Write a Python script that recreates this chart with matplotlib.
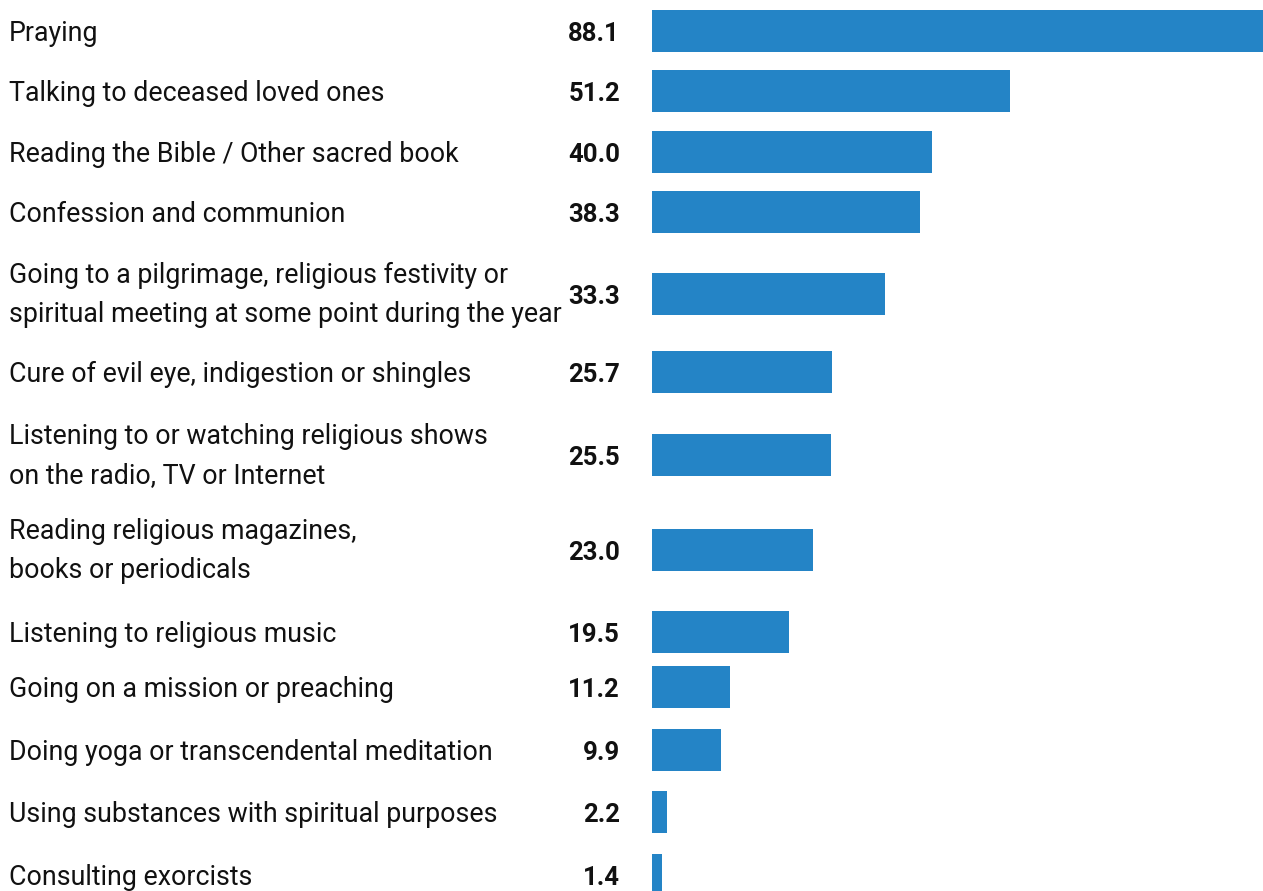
import matplotlib
matplotlib.use("Agg")
import matplotlib.pyplot as plt
from matplotlib import font_manager as fm
from matplotlib.transforms import blended_transform_factory

# Share of respondents practising each activity (%)
activities = [
    "Praying",
    "Talking to deceased loved ones",
    "Reading the Bible / Other sacred book",
    "Confession and communion",
    "Going to a pilgrimage, religious festivity or\nspiritual meeting at some point during the year",
    "Cure of evil eye, indigestion or shingles",
    "Listening to or watching religious shows\non the radio, TV or Internet",
    "Reading religious magazines,\nbooks or periodicals",
    "Listening to religious music",
    "Going on a mission or preaching",
    "Doing yoga or transcendental meditation",
    "Using substances with spiritual purposes",
    "Consulting exorcists",
]
shares = [88.1, 51.2, 40.0, 38.3, 33.3, 25.7, 25.5, 23.0, 19.5, 11.2, 9.9, 2.2, 1.4]

# ---- layout (pixel units, figure is 1263 x 891 at 100 dpi) ----
W, H = 1263, 891
row_centers = [31, 91, 152, 212, 294, 372, 455, 550, 632, 687, 750, 812, 875]
bar_height = 41.7
bar_left = 652
px_per_unit = 7.0
label_x = 9
value_right = 620
line_gap = 39.5
cap_half = 9.7

BAR_COLOR = "#2484C6"
TEXT_COLOR = "#111111"

installed = {f.name for f in fm.fontManager.ttflist}
label_font = dict(family=["Roboto", "DejaVu Sans"], size=19.3)
if "Liberation Sans Narrow" in installed:
    value_font = dict(family=["Liberation Sans Narrow"], weight="bold", size=20.1)
else:
    value_font = dict(family=["Roboto", "DejaVu Sans"], weight="bold", size=18.5)

fig = plt.figure(figsize=(W / 100, H / 100), dpi=100)
fig.patch.set_facecolor("white")

ax = fig.add_axes([bar_left / W, 0, (W - bar_left) / W, 1])
ax.barh(row_centers, shares, height=bar_height, color=BAR_COLOR, linewidth=0)
ax.set_xlim(0, (W - bar_left) / px_per_unit)
ax.set_ylim(H, 0)
ax.axis("off")

trans = blended_transform_factory(fig.transFigure, ax.transData)

for name, val, yc in zip(activities, shares, row_centers):
    lines = name.split("\n")
    n = len(lines)
    for i, line in enumerate(lines):
        shift = -1 if n > 1 else 0
        y_mid = yc + (i - (n - 1) / 2) * line_gap + shift
        ax.text(label_x / W, y_mid + cap_half, line, transform=trans,
                ha="left", va="baseline", color=TEXT_COLOR,
                clip_on=False, **label_font)
    ax.text(value_right / W, yc + cap_half, f"{val:.1f}", transform=trans,
            ha="right", va="baseline", color=TEXT_COLOR,
            clip_on=False, **value_font)

fig.savefig("out.png", dpi=100, facecolor="white")
